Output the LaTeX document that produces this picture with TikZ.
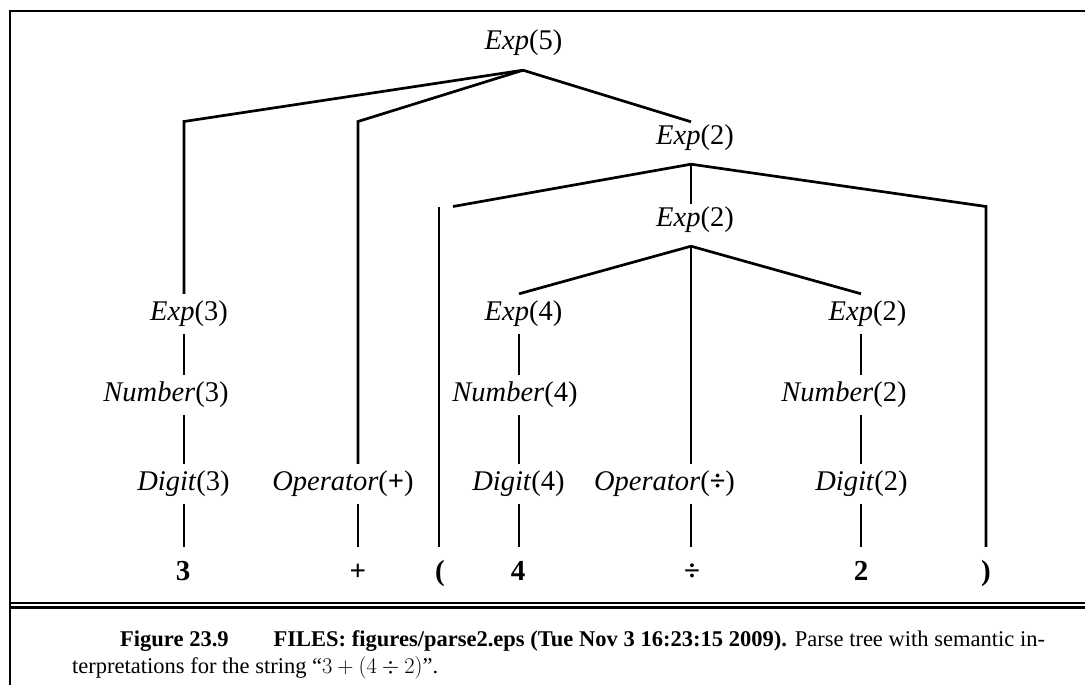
\RequirePackage{fix-cm}
\documentclass[tikz,border=0pt]{standalone}
\usepackage{fontspec}
\setmainfont{Liberation Serif}
\begin{document}
\begin{tikzpicture}[x=1pt,y=-1pt,
  lbl/.style={font=\fontsize{28.5}{34}\selectfont, inner sep=0pt, anchor=base, text height=26pt, text depth=14pt},
  toplbl/.style={lbl, text height=22pt, text depth=20pt},
  leaf/.style={font=\fontsize{29}{34}\selectfont\bfseries, inner sep=0pt, anchor=base, text height=33pt, text depth=0pt},
  edge/.style={line width=2.7pt, line cap=butt, line join=miter},
  frame/.style={line width=2.6pt},
  captxt/.style={font=\fontsize{22.5}{27}\selectfont, inner sep=0pt, anchor=base west}]
\useasboundingbox (0,0) rectangle (1085,685);
% frame
\draw[frame] (1090,11) -- (10,11) -- (10,690);
\draw[frame] (10,603) -- (1090,603);
\draw[frame] (10,607.5) -- (1090,607.5);
% columns and rows
\coordinate (cA) at (184,0);
\coordinate (cB) at (358,0);
\coordinate (cC) at (439,0);
\coordinate (cC2) at (453,0);
\coordinate (cD) at (519,0);
\coordinate (cT) at (523,0);
\coordinate (cE) at (691,0);
\coordinate (cF) at (861,0);
\coordinate (cG) at (986,0);
\coordinate (r1) at (0,121.5);
\coordinate (r2) at (0,206.5);
% nodes
\node[toplbl] (e5) at (523.5,50) {\textit{Exp}(5)};
\node[toplbl] (e2) at (695,144) {\textit{Exp}(2)};
\node[toplbl] (ei) at (695,226) {\textit{Exp}(2)};
\node[lbl] (e3) at (189,320) {\textit{Exp}(3)};
\node[lbl] (e4) at (523.5,320) {\textit{Exp}(4)};
\node[lbl] (e2r) at (867.5,320) {\textit{Exp}(2)};
\node[lbl] (n3) at (166,401) {\textit{Number}(3)};
\node[lbl] (n4) at (515,401) {\textit{Number}(4)};
\node[lbl] (n2) at (844,401) {\textit{Number}(2)};
\node[lbl] (d3) at (183.5,490) {\textit{Digit}(3)};
\node[lbl] (opp) at (343,490) {\textit{Operator}(\textbf{+})};
\node[lbl] (d4) at (518.5,490) {\textit{Digit}(4)};
\node[lbl] (opd) at (664.5,490) {\textit{Operator}(\textbf{÷})};
\node[lbl] (d2) at (861.5,490) {\textit{Digit}(2)};
\node[leaf] (l3) at (183,580) {3};
\node[leaf] (lplus) at (358,580) {+};
\node[leaf] (lp) at (440,580) {(};
\node[leaf] (l4) at (518,580) {4};
\node[leaf] (ldiv) at (692,580) {÷};
\node[leaf] (l2) at (861,580) {2};
\node[leaf] (rp) at (986,580) {)};
% edges from Exp(5)
\draw[edge] (cA |- e3.north) -- (cA |- r1) -- (cT |- e5.south);
\draw[edge] (cB |- opp.north) -- (cB |- r1) -- (cT |- e5.south);
\draw[edge] (cT |- e5.south) -- (cE |- e2.north);
% edges from Exp(2)
\draw[edge] (cC2 |- r2) -- (cE |- e2.south);
\draw[edge] (cC |- r2) -- (cC |- lp.north);
\draw[edge] (cE |- e2.south) -- (cE |- ei.north);
\draw[edge] (cE |- e2.south) -- (cG |- r2) -- (cG |- rp.north);
% edges from inner Exp(2)
\draw[edge] (cD |- e4.north) -- (cE |- ei.south);
\draw[edge] (cE |- ei.south) -- (cE |- opd.north);
\draw[edge] (cE |- ei.south) -- (cF |- e2r.north);
% chains
\draw[edge] (cA |- e3.south) -- (cA |- n3.north);
\draw[edge] (cA |- n3.south) -- (cA |- d3.north);
\draw[edge] (cA |- d3.south) -- (cA |- l3.north);
\draw[edge] (cD |- e4.south) -- (cD |- n4.north);
\draw[edge] (cD |- n4.south) -- (cD |- d4.north);
\draw[edge] (cD |- d4.south) -- (cD |- l4.north);
\draw[edge] (cF |- e2r.south) -- (cF |- n2.north);
\draw[edge] (cF |- n2.south) -- (cF |- d2.north);
\draw[edge] (cF |- d2.south) -- (cF |- l2.north);
\draw[edge] (cB |- opp.south) -- (cB |- lplus.north);
\draw[edge] (cE |- opd.south) -- (cE |- ldiv.north);
% caption
\node[captxt] (cap1) at (120,646) {\makebox[925pt][s]{\textbf{Figure 23.9}\hspace{2em}\textbf{FILES: figures/parse2.eps (Tue Nov 3 16:23:15 2009).} Parse tree with semantic in-}};
\node[captxt] (cap2) at (72,673) {terpretations for the string ``$3+(4\div 2)$''.};
\end{tikzpicture}
\end{document}
